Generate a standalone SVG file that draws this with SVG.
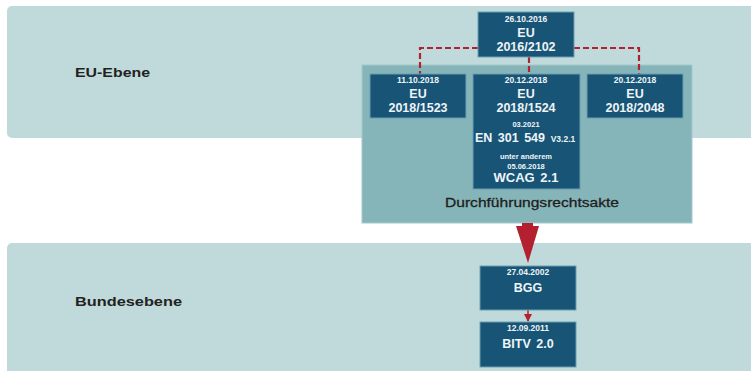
<svg xmlns="http://www.w3.org/2000/svg" width="751" height="371" viewBox="0 0 751 371">
<style>
.band{fill:#c0dadb;}
.box{fill:#175475;stroke:#6d9db2;stroke-width:1;}
.t{font-family:"Liberation Sans",Arial,sans-serif;font-weight:bold;fill:#eef4f7;text-anchor:middle;}
.s{font-size:8.5px;}
.m{font-size:12.5px;}
.lbl{font-family:"Liberation Sans",Arial,sans-serif;font-weight:bold;font-size:13px;fill:#222;}
.dash{fill:none;stroke:#b3202f;stroke-width:2.2;stroke-dasharray:6,3;}
</style>
<defs>
<marker id="ah" markerWidth="8" markerHeight="8" refX="7" refY="4" orient="auto" markerUnits="userSpaceOnUse">
<path d="M0,0 L8,4 L0,8 Z" fill="#b3202f"/>
</marker>
</defs>
<g id="ebenen">
<rect class="band" x="7" y="6" width="760" height="132" rx="5"/>
<rect class="band" x="7" y="243" width="760" height="140" rx="5"/>
<text class="lbl" x="75" y="77" textLength="75" lengthAdjust="spacingAndGlyphs">EU-Ebene</text>
<text class="lbl" x="75" y="306" textLength="107" lengthAdjust="spacingAndGlyphs">Bundesebene</text>
</g>
<g id="durchfuehrung">
<rect x="362" y="65" width="330" height="158" fill="#86b5b9" stroke="#a3c8cb" stroke-width="1"/>
<text x="532" y="207" font-family="'Liberation Sans',Arial,sans-serif" font-size="13.5px" fill="#1e1e1e" stroke="#1e1e1e" stroke-width="0.3" text-anchor="middle" textLength="174" lengthAdjust="spacingAndGlyphs">Durchführungsrechtsakte</text>
</g>
<g id="connectors">
<path class="dash" d="M478,48 H420 V74"/>
<path class="dash" d="M574,48 H639 V74"/>
<path class="dash" d="M529,57 V74"/>
<path d="M522,223 H533 V226 H539 L528,263 L516,226 H522 Z" fill="#b3202f"/>
<line x1="528" y1="310" x2="528" y2="321" stroke="#b3202f" stroke-width="1.5" marker-end="url(#ah)"/>
</g>
<g id="eu2016">
<rect class="box" x="478" y="12" width="96" height="45"/>
<text class="t s" x="526" y="22">26.10.2016</text>
<text class="t m" x="526" y="37">EU</text>
<text class="t m" x="526" y="51">2016/2102</text>
</g>
<g id="eu1523">
<rect class="box" x="370" y="74" width="96" height="44"/>
<text class="t s" x="418" y="83">11.10.2018</text>
<text class="t m" x="418" y="98">EU</text>
<text class="t m" x="418" y="112">2018/1523</text>
</g>
<g id="eu1524">
<rect class="box" x="473" y="74" width="107" height="115"/>
<text class="t s" x="526" y="83">20.12.2018</text>
<text class="t m" x="526" y="98">EU</text>
<text class="t m" x="526" y="112">2018/1524</text>
<text class="t" x="526" y="127" font-size="7.5px">03.2021</text>
<text class="t m" x="510" y="142" word-spacing="2px">EN 301 549</text>
<text class="t" x="563" y="142" font-size="8.5px">V3.2.1</text>
<text class="t" x="526" y="159" font-size="7.5px">unter anderem</text>
<text class="t" x="526" y="169" font-size="7.5px">05.06.2018</text>
<text class="t" x="526" y="182" font-size="13px" word-spacing="2px">WCAG 2.1</text>
</g>
<g id="eu2048">
<rect class="box" x="587" y="74" width="96" height="44"/>
<text class="t s" x="635" y="83">20.12.2018</text>
<text class="t m" x="635" y="98">EU</text>
<text class="t m" x="635" y="112">2018/2048</text>
</g>
<g id="bgg">
<rect class="box" x="480" y="266" width="96" height="44"/>
<text class="t s" x="528" y="275">27.04.2002</text>
<text class="t m" x="528" y="292">BGG</text>
</g>
<g id="bitv">
<rect class="box" x="480" y="322" width="96" height="45"/>
<text class="t s" x="528" y="331">12.09.2011</text>
<text class="t m" x="528" y="348" word-spacing="2px">BITV 2.0</text>
</g>
</svg>
